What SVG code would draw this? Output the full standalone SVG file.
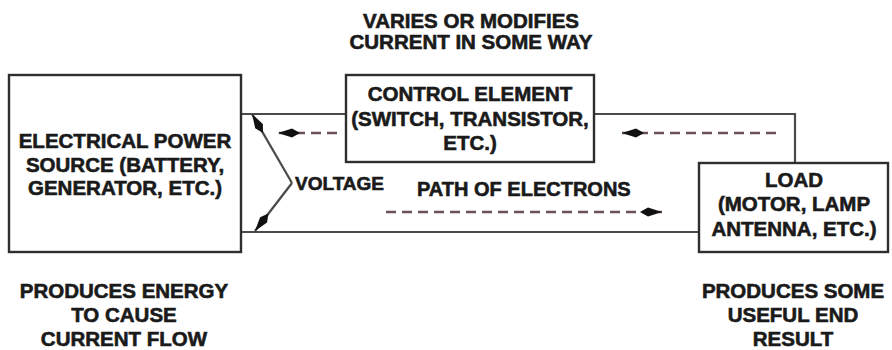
<svg xmlns="http://www.w3.org/2000/svg" width="892" height="350" viewBox="0 0 892 350">
<style>
.box{fill:#fff;stroke:#2e2e2e;stroke-width:2.4}
.wire{fill:none;stroke:#4a4a4a;stroke-width:2.2}
.volt{fill:none;stroke:#4a4a4a;stroke-width:2.2}
.dash{fill:none;stroke:#6a5058;stroke-width:2.4;stroke-dasharray:10 6}
.t{font-family:"Liberation Sans",Arial,Helvetica,sans-serif;font-weight:bold;font-size:20.5px;fill:#1a1a1a;stroke:#1a1a1a;stroke-width:0.6;text-anchor:middle}
</style>
<defs>
<marker id="ah" viewBox="0 0 22 10" refX="22" refY="5" markerWidth="22" markerHeight="10" markerUnits="userSpaceOnUse" orient="auto">
<path d="M22,5 L8,0.6 L0,5 L8,9.4 Z" fill="#111"/>
</marker>
</defs>
<rect width="892" height="350" fill="#fff"/>
<g id="connectors">
<path class="wire" d="M241,114 H346"/>
<path class="wire" d="M594,114 H795 V163"/>
<path class="wire" d="M241,232 H699"/>
<path class="volt" d="M292,183 L252,114" marker-end="url(#ah)"/>
<path class="volt" d="M292,183 L255,231" marker-end="url(#ah)"/>
<path class="dash" d="M337,133 H278" marker-end="url(#ah)"/>
<path class="dash" d="M776,133 H622" marker-end="url(#ah)"/>
<path class="dash" d="M386,212 H662" marker-end="url(#ah)"/>
</g>
<g id="source">
<rect class="box" x="9" y="75" width="232" height="177"/>
<text class="t" x="125" y="148">ELECTRICAL POWER</text>
<text class="t" x="125" y="172">SOURCE (BATTERY,</text>
<text class="t" x="125" y="195">GENERATOR, ETC.)</text>
</g>
<g id="control">
<rect class="box" x="346" y="75" width="248" height="87"/>
<text class="t" x="470" y="101">CONTROL ELEMENT</text>
<text class="t" x="470" y="126">(SWITCH, TRANSISTOR,</text>
<text class="t" x="470" y="150">ETC.)</text>
</g>
<g id="load">
<rect class="box" x="699" y="163" width="189" height="89"/>
<text class="t" x="794" y="187">LOAD</text>
<text class="t" x="794" y="211">(MOTOR, LAMP</text>
<text class="t" x="794" y="236">ANTENNA, ETC.)</text>
</g>
<g id="labels">
<text class="t" x="471" y="28">VARIES OR MODIFIES</text>
<text class="t" x="471" y="49">CURRENT IN SOME WAY</text>
<text class="t" x="295" y="190" style="text-anchor:start;font-size:19px">VOLTAGE</text>
<text class="t" x="417" y="196" style="text-anchor:start;font-size:20px">PATH OF ELECTRONS</text>
<text class="t" x="124" y="298">PRODUCES ENERGY</text>
<text class="t" x="124" y="322">TO CAUSE</text>
<text class="t" x="124" y="346">CURRENT FLOW</text>
<text class="t" x="793" y="298">PRODUCES SOME</text>
<text class="t" x="793" y="322">USEFUL END</text>
<text class="t" x="793" y="346">RESULT</text>
</g>
</svg>
